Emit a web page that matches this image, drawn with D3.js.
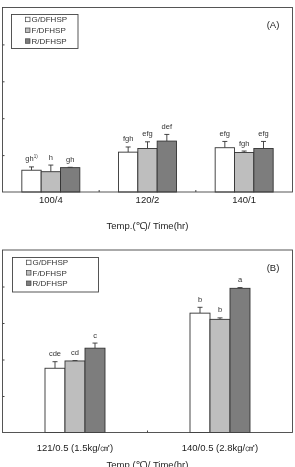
<!DOCTYPE html>
<html>
<head>
<meta charset="utf-8">
<script src="https://cdn.jsdelivr.net/npm/d3@7/dist/d3.min.js"></script>
<style>
  body { margin: 0; background: #fff; }
  svg { display: block; font-family: "Liberation Sans", Arial, sans-serif; will-change: transform; }
  text { -webkit-font-smoothing: antialiased; }
</style>
</head>
<body>
<div id="wrapper"></div>
<script>
// data
const seriesNames = ["G/DFHSP", "F/DFHSP", "R/DFHSP"];
const seriesColors = ["#ffffff", "#bebebe", "#7d7d7d"];
const yTicks = [1, 2, 3, 4];

const catsA = ["100/4", "120/2", "140/1"];
const gA = [0.59, 1.08, 1.20];
const fA = [0.55, 1.18, 1.07];
const rA = [0.66, 1.38, 1.18];
const gErrA = [0.09, 0.14, 0.17];
const fErrA = [0.18, 0.18, 0.04];
const rErrA = [0.01, 0.18, 0.19];
const gLetA = ["gh", "fgh", "efg"];
const fLetA = ["h", "efg", "fgh"];
const rLetA = ["gh", "def", "efg"];

const catsB = ["121/0.5 (1.5kg/㎠)", "140/0.5  (2.8kg/㎠)"];
const gB = [1.76, 3.27];
const fB = [1.96, 3.10];
const rB = [2.31, 3.95];
const gErrB = [0.18, 0.16];
const fErrB = [0.01, 0.04];
const rErrB = [0.14, 0.02];
const gLetB = ["cde", "b"];
const fLetB = ["cd", "b"];
const rLetB = ["c", "a"];

const width = 295, height = 467;

const svg = d3.select("#wrapper").append("svg")
    .attr("width", width)
    .attr("height", height);

function drawPanel(opts) {
    const { cats, values, errors, letters, top, bottom, groupWidth,
            panelLabel, legendBox, titleY, labelY } = opts;
    const left = 2.5, right = 292.5;

    const x0 = d3.scaleBand().domain(cats).range([left, right]);
    const step = x0.bandwidth();
    const x1 = d3.scaleBand().domain(seriesNames)
        .range([(step - groupWidth) / 2, (step + groupWidth) / 2]);
    const y = d3.scaleLinear().domain([0, 5]).range([bottom, top]);

    const g = svg.append("g");

    // bars
    const rows = [];
    cats.forEach((c, i) => {
        seriesNames.forEach((s, j) => {
            rows.push({ cat: c, s, j, v: values[j][i], e: errors[j][i], lab: letters[j][i] });
        });
    });

    const bar = g.selectAll(".bar").data(rows).join("g");

    bar.append("line")
        .attr("x1", d => x0(d.cat) + x1(d.s) + x1.bandwidth() / 2)
        .attr("x2", d => x0(d.cat) + x1(d.s) + x1.bandwidth() / 2)
        .attr("y1", d => y(d.v))
        .attr("y2", d => y(d.v + d.e))
        .attr("stroke", "#333").attr("stroke-width", 0.9);
    bar.append("line")
        .attr("x1", d => x0(d.cat) + x1(d.s) + x1.bandwidth() / 2 - 2.5)
        .attr("x2", d => x0(d.cat) + x1(d.s) + x1.bandwidth() / 2 + 2.5)
        .attr("y1", d => y(d.v + d.e))
        .attr("y2", d => y(d.v + d.e))
        .attr("stroke", "#333").attr("stroke-width", 0.9);

    bar.append("rect")
        .attr("x", d => x0(d.cat) + x1(d.s))
        .attr("y", d => y(d.v))
        .attr("width", x1.bandwidth())
        .attr("height", d => y(0) - y(d.v))
        .attr("fill", d => seriesColors[d.j])
        .attr("stroke", "#333")
        .attr("stroke-width", 0.9);

    const lab = bar.append("text")
        .attr("x", d => x0(d.cat) + x1(d.s) + x1.bandwidth() / 2)
        .attr("y", d => y(d.v + d.e) - 5.5)
        .attr("text-anchor", "middle")
        .attr("font-size", 7.5)
        .attr("fill", "#333")
        .text(d => d.lab);
    if (opts.footnote) {
        lab.filter((d, k) => k === 0)
            .append("tspan")
            .attr("font-size", 4.5)
            .attr("dy", -3)
            .text("1)");
    }

    // frame
    g.append("rect")
        .attr("x", left).attr("y", top)
        .attr("width", right - left).attr("height", bottom - top)
        .attr("fill", "none").attr("stroke", "#444").attr("stroke-width", 0.9);

    // y ticks (inside)
    g.append("g")
        .attr("transform", `translate(${left},0)`)
        .call(d3.axisLeft(y).tickValues(yTicks).tickSize(-2).tickFormat(""))
        .call(a => a.select(".domain").remove())
        .call(a => a.selectAll("line").attr("stroke", "#444"));

    // x ticks between groups
    g.append("g")
        .selectAll("line")
        .data(cats.slice(1))
        .join("line")
        .attr("x1", d => x0(d)).attr("x2", d => x0(d))
        .attr("y1", bottom).attr("y2", bottom - 2)
        .attr("stroke", "#444");

    // category labels
    g.append("g").selectAll("text")
        .data(cats)
        .join("text")
        .attr("x", d => x0(d) + step / 2)
        .attr("y", labelY)
        .attr("text-anchor", "middle")
        .attr("font-size", 9.5)
        .attr("fill", "#222")
        .text(d => d);

    g.append("text")
        .attr("x", 147.5)
        .attr("y", titleY)
        .attr("text-anchor", "middle")
        .attr("font-size", 9.5)
        .attr("fill", "#222")
        .text("Temp.(℃)/ Time(hr)");

    g.append("text")
        .attr("x", 273)
        .attr("y", top + 20.5)
        .attr("text-anchor", "middle")
        .attr("font-size", 9.5)
        .attr("fill", "#222")
        .text(panelLabel);

    // legend
    const lg = g.append("g");
    lg.append("rect")
        .attr("x", legendBox.x).attr("y", legendBox.y)
        .attr("width", legendBox.w).attr("height", legendBox.h)
        .attr("fill", "#fff").attr("stroke", "#444").attr("stroke-width", 0.9);
    const item = lg.selectAll(".item").data(seriesNames).join("g")
        .attr("transform", (d, i) => `translate(${legendBox.x + 14},${legendBox.y + 5 + i * legendBox.gap})`);
    item.append("rect")
        .attr("x", 0).attr("y", -2.3)
        .attr("width", 4.5).attr("height", 4.5)
        .attr("fill", (d, i) => seriesColors[i])
        .attr("stroke", "#444").attr("stroke-width", 0.7);
    item.append("text")
        .attr("x", 6)
        .attr("y", 2.8)
        .attr("font-size", 8)
        .attr("fill", "#333")
        .text(d => d);
}

drawPanel({
    cats: catsA,
    values: [gA, fA, rA],
    errors: [gErrA, fErrA, rErrA],
    letters: [gLetA, fLetA, rLetA],
    top: 7.5, bottom: 192, groupWidth: 58,
    panelLabel: "(A)",
    legendBox: { x: 11.5, y: 14.5, w: 66.5, h: 34, gap: 10.8 },
    labelY: 203, titleY: 228.5,
    footnote: true
});

drawPanel({
    cats: catsB,
    values: [gB, fB, rB],
    errors: [gErrB, fErrB, rErrB],
    letters: [gLetB, fLetB, rLetB],
    top: 250, bottom: 432.5, groupWidth: 60,
    panelLabel: "(B)",
    legendBox: { x: 12.5, y: 257.5, w: 86, h: 34.5, gap: 10.4 },
    labelY: 451, titleY: 467.5
});
</script>
</body>
</html>
